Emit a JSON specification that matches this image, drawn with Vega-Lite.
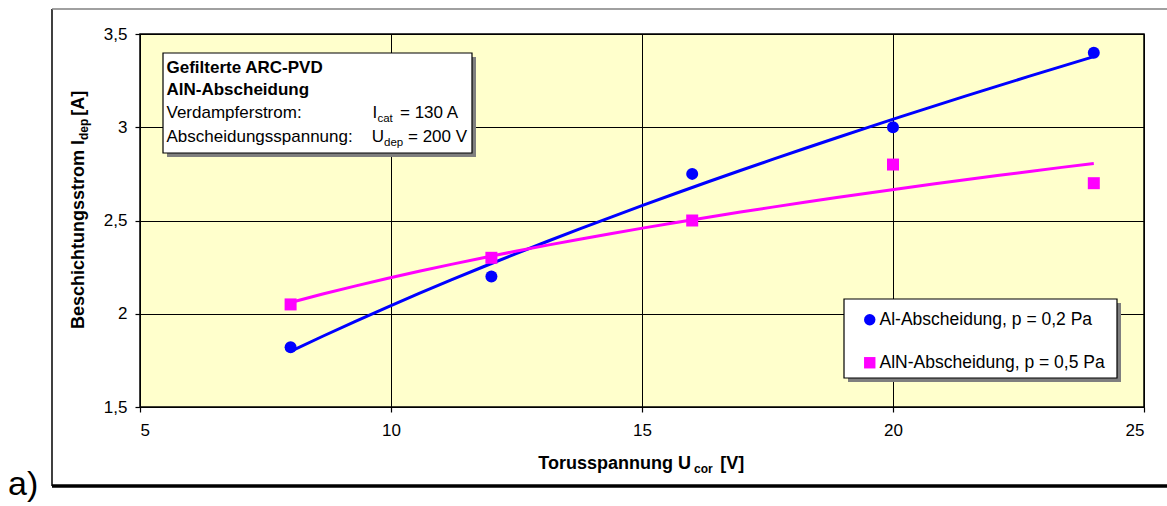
{
  "$schema": "https://vega.github.io/schema/vega-lite/v6.json",
  "autosize": {"type": "none"},
  "padding": {"left": 140, "top": 34, "right": 23, "bottom": 99},
  "width": 1004,
  "height": 373,
  "background": "white",
  "config": {
    "view": {"fill": "#FFFFCC", "stroke": "black", "strokeWidth": 1.5},
    "axis": {
      "labelFont": "Liberation Sans",
      "labelFontSize": 17,
      "labelColor": "black",
      "domain": false,
      "grid": true,
      "gridColor": "black",
      "gridOpacity": 1,
      "gridWidth": 1,
      "tickColor": "black",
      "tickSize": 5,
      "tickWidth": 1.2,
      "title": null
    }
  },
  "data": {
    "values": [
      {"U": 8, "I": 1.82, "Serie": "Al-Abscheidung, p = 0,2 Pa"},
      {"U": 12, "I": 2.2, "Serie": "Al-Abscheidung, p = 0,2 Pa"},
      {"U": 16, "I": 2.75, "Serie": "Al-Abscheidung, p = 0,2 Pa"},
      {"U": 20, "I": 3.0, "Serie": "Al-Abscheidung, p = 0,2 Pa"},
      {"U": 24, "I": 3.4, "Serie": "Al-Abscheidung, p = 0,2 Pa"},
      {"U": 8, "I": 2.05, "Serie": "AlN-Abscheidung, p = 0,5 Pa"},
      {"U": 12, "I": 2.3, "Serie": "AlN-Abscheidung, p = 0,5 Pa"},
      {"U": 16, "I": 2.5, "Serie": "AlN-Abscheidung, p = 0,5 Pa"},
      {"U": 20, "I": 2.8, "Serie": "AlN-Abscheidung, p = 0,5 Pa"},
      {"U": 24, "I": 2.7, "Serie": "AlN-Abscheidung, p = 0,5 Pa"}
    ]
  },
  "encoding": {
    "x": {
      "type": "quantitative",
      "scale": {"domain": [5, 25], "nice": false, "zero": false},
      "axis": {"values": [5, 10, 15, 20, 25], "labelPadding": 10, "title": null}
    },
    "y": {
      "type": "quantitative",
      "scale": {"domain": [1.5, 3.5], "nice": false, "zero": false},
      "axis": {"values": [1.5, 2, 2.5, 3, 3.5], "labelPadding": 8, "labelExpr": "replace(toString(datum.value), '.', ',')", "title": null}
    }
  },
  "layer": [
    {
      "transform": [{"regression": "I", "on": "U", "groupby": ["Serie"], "method": "pow"}],
      "mark": {"type": "line", "strokeWidth": 3},
      "encoding": {
        "x": {"field": "U", "type": "quantitative"},
        "y": {"field": "I", "type": "quantitative"},
        "stroke": {"field": "Serie", "type": "nominal", "legend": null,
          "scale": {"range": ["#0000FF", "#FF00FF"]}}
      }
    },
    {
      "data": {"values": [{}]},
      "mark": {"type": "rect", "fill": "#7f7f7f"},
      "encoding": {"x": {"datum": 5.5378}, "x2": {"datum": 11.6932}, "y": {"datum": 3.3767}, "y2": {"datum": 2.8405}}
    },
    {
      "data": {"values": [{}]},
      "mark": {"type": "rect", "fill": "white", "stroke": "black", "strokeWidth": 1.2},
      "encoding": {"x": {"datum": 5.4582}, "x2": {"datum": 11.6135}, "y": {"datum": 3.3981}, "y2": {"datum": 2.8619}}
    },
    {
      "data": {"values": [{}]},
      "mark": {"type": "rect", "fill": "#7f7f7f"},
      "encoding": {"x": {"datum": 19.1036}, "x2": {"datum": 24.5418}, "y": {"datum": 2.0576}, "y2": {"datum": 1.634}}
    },
    {
      "data": {"values": [{}]},
      "mark": {"type": "rect", "fill": "white", "stroke": "black", "strokeWidth": 1.2},
      "encoding": {"x": {"datum": 19.0239}, "x2": {"datum": 24.4622}, "y": {"datum": 2.0791}, "y2": {"datum": 1.6555}}
    },
    {
      "mark": {"type": "point", "filled": true, "opacity": 1, "size": 144},
      "encoding": {
        "x": {"field": "U", "type": "quantitative"},
        "y": {"field": "I", "type": "quantitative"},
        "color": {"field": "Serie", "type": "nominal",
          "scale": {"domain": ["Al-Abscheidung, p = 0,2 Pa", "AlN-Abscheidung, p = 0,5 Pa"], "range": ["#0000FF", "#FF00FF"]},
          "legend": {"orient": "none", "legendX": 721, "legendY": 277, "title": null, "labelFont": "Liberation Sans", "labelFontSize": 17.5, "labelColor": "black", "rowPadding": 24, "symbolSize": 130, "labelOffset": 1, "padding": 0, "symbolStrokeWidth": 0, "labelLimit": 400}},
        "shape": {"field": "Serie", "type": "nominal",
          "scale": {"domain": ["Al-Abscheidung, p = 0,2 Pa", "AlN-Abscheidung, p = 0,5 Pa"], "range": ["circle", "square"]},
          "legend": {"orient": "none", "legendX": 721, "legendY": 277, "title": null, "labelFont": "Liberation Sans", "labelFontSize": 17.5, "labelColor": "black", "rowPadding": 24, "symbolSize": 130, "labelOffset": 1, "padding": 0, "symbolStrokeWidth": 0, "labelLimit": 400}}
      }
    },
    {
      "data": {"values": [{}]},
      "mark": {"type": "text", "text": "Gefilterte ARC-PVD", "font": "Liberation Sans", "fontSize": 17, "fontWeight": "bold", "align": "left", "baseline": "alphabetic", "color": "black"},
      "encoding": {"x": {"datum": 5.5279}, "y": {"datum": 3.2893}}
    },
    {
      "data": {"values": [{}]},
      "mark": {"type": "text", "text": "AlN-Abscheidung", "font": "Liberation Sans", "fontSize": 17, "fontWeight": "bold", "align": "left", "baseline": "alphabetic", "color": "black"},
      "encoding": {"x": {"datum": 5.5279}, "y": {"datum": 3.1729}}
    },
    {
      "data": {"values": [{}]},
      "mark": {"type": "text", "text": "Verdampferstrom:", "font": "Liberation Sans", "fontSize": 17, "align": "left", "baseline": "alphabetic", "color": "black"},
      "encoding": {"x": {"datum": 5.5279}, "y": {"datum": 3.048}}
    },
    {
      "data": {"values": [{}]},
      "mark": {"type": "text", "text": "Abscheidungsspannung:", "font": "Liberation Sans", "fontSize": 17, "align": "left", "baseline": "alphabetic", "color": "black"},
      "encoding": {"x": {"datum": 5.5279}, "y": {"datum": 2.9225}}
    },
    {
      "data": {"values": [{}]},
      "mark": {"type": "text", "text": "I", "font": "Liberation Sans", "fontSize": 17, "align": "left", "baseline": "alphabetic", "color": "black"},
      "encoding": {"x": {"datum": 9.6315}, "y": {"datum": 3.048}}
    },
    {
      "data": {"values": [{}]},
      "mark": {"type": "text", "text": "cat", "font": "Liberation Sans", "fontSize": 11.5, "align": "left", "baseline": "alphabetic", "color": "black"},
      "encoding": {"x": {"datum": 9.7291}, "y": {"datum": 3.0265}}
    },
    {
      "data": {"values": [{}]},
      "mark": {"type": "text", "text": "= 130 A", "font": "Liberation Sans", "fontSize": 17, "align": "left", "baseline": "alphabetic", "color": "black"},
      "encoding": {"x": {"datum": 10.1793}, "y": {"datum": 3.048}}
    },
    {
      "data": {"values": [{}]},
      "mark": {"type": "text", "text": "U", "font": "Liberation Sans", "fontSize": 17, "align": "left", "baseline": "alphabetic", "color": "black"},
      "encoding": {"x": {"datum": 9.6155}, "y": {"datum": 2.9225}}
    },
    {
      "data": {"values": [{}]},
      "mark": {"type": "text", "text": "dep", "font": "Liberation Sans", "fontSize": 11.5, "align": "left", "baseline": "alphabetic", "color": "black"},
      "encoding": {"x": {"datum": 9.8606}, "y": {"datum": 2.9011}}
    },
    {
      "data": {"values": [{}]},
      "mark": {"type": "text", "text": "= 200 V", "font": "Liberation Sans", "fontSize": 17, "align": "left", "baseline": "alphabetic", "color": "black"},
      "encoding": {"x": {"datum": 10.3386}, "y": {"datum": 2.9225}}
    },
    {
      "data": {"values": [{}]},
      "mark": {"type": "text", "text": "Torusspannung U", "font": "Liberation Sans", "fontSize": 18, "fontWeight": "bold", "align": "left", "baseline": "alphabetic", "color": "black"},
      "encoding": {"x": {"datum": 12.934}, "y": {"datum": 1.1676}}
    },
    {
      "data": {"values": [{}]},
      "mark": {"type": "text", "text": "cor", "font": "Liberation Sans", "fontSize": 12, "fontWeight": "bold", "align": "left", "baseline": "alphabetic", "color": "black"},
      "encoding": {"x": {"datum": 16.036}, "y": {"datum": 1.1461}}
    },
    {
      "data": {"values": [{}]},
      "mark": {"type": "text", "text": "[V]", "font": "Liberation Sans", "fontSize": 18, "fontWeight": "bold", "align": "left", "baseline": "alphabetic", "color": "black"},
      "encoding": {"x": {"datum": 16.56}, "y": {"datum": 1.1676}}
    },
    {
      "data": {"values": [{}]},
      "mark": {"type": "text", "text": "Beschichtungsstrom I", "font": "Liberation Sans", "fontSize": 18, "fontWeight": "bold", "align": "left", "baseline": "alphabetic", "angle": 270, "color": "black"},
      "encoding": {"x": {"datum": 3.8845}, "y": {"datum": 1.9182}}
    },
    {
      "data": {"values": [{}]},
      "mark": {"type": "text", "text": "dep", "font": "Liberation Sans", "fontSize": 12, "fontWeight": "bold", "align": "left", "baseline": "alphabetic", "angle": 270, "color": "black"},
      "encoding": {"x": {"datum": 3.9641}, "y": {"datum": 2.9316}}
    },
    {
      "data": {"values": [{}]},
      "mark": {"type": "text", "text": "[A]", "font": "Liberation Sans", "fontSize": 18, "fontWeight": "bold", "align": "left", "baseline": "alphabetic", "angle": 270, "color": "black"},
      "encoding": {"x": {"datum": 3.8845}, "y": {"datum": 3.0617}}
    },
    {
      "data": {"values": [{}]},
      "mark": {"type": "rule", "color": "black", "strokeWidth": 1.5},
      "encoding": {"x": {"datum": 3.247}, "y": {"datum": 3.634}, "y2": {"datum": 1.0764}}
    },
    {
      "data": {"values": [{}]},
      "mark": {"type": "rule", "color": "#808080", "strokeWidth": 1.5},
      "encoding": {"x": {"datum": 3.247}, "x2": {"datum": 25.52}, "y": {"datum": 3.634}}
    },
    {
      "data": {"values": [{}]},
      "mark": {"type": "rule", "color": "black", "strokeWidth": 3.5},
      "encoding": {"x": {"datum": 3.247}, "x2": {"datum": 25.52}, "y": {"datum": 1.0764}}
    },
    {
      "data": {"values": [{}]},
      "mark": {"type": "text", "text": "a)", "font": "Liberation Sans", "fontSize": 34, "align": "left", "baseline": "alphabetic", "color": "black"},
      "encoding": {"x": {"datum": 2.3705}, "y": {"datum": 1.0282}}
    }
  ]
}
